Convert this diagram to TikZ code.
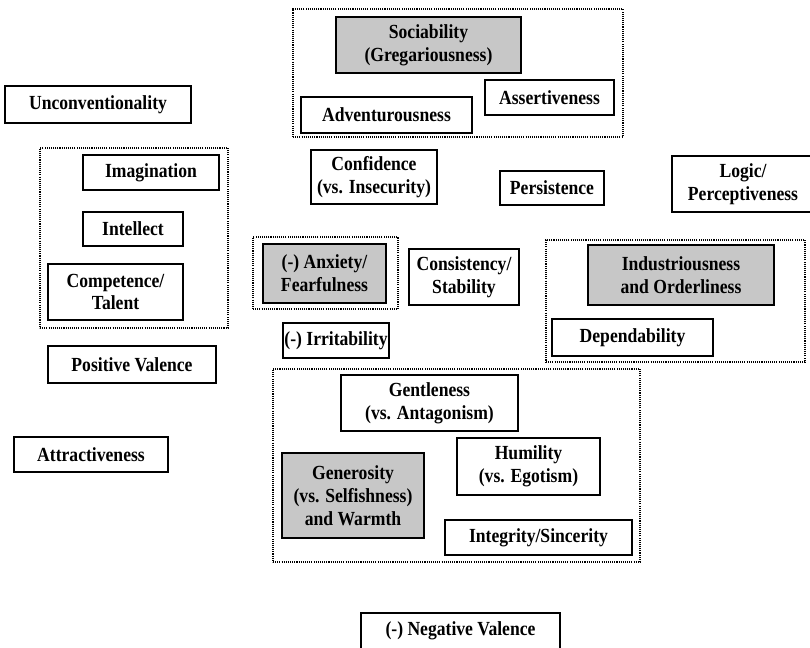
\documentclass[tikz,border=0pt]{standalone}
\usepackage{fontspec}
\setmainfont{Liberation Serif}[FakeStretch=0.88]
\begin{document}
\begin{tikzpicture}[x=0.75pt,y=-0.75pt,
  box/.style={draw=black,line width=0.9pt,inner sep=0pt,align=center,
    font=\bfseries\fontsize{15}{17.2}\selectfont},
  shaded/.style={fill=black!22},
  group/.style={draw=black,line width=1.1pt,dash pattern=on 0.8pt off 0.8pt,inner sep=0pt}]
\useasboundingbox (0,0) rectangle (810,647);
\newcommand\bx[7][]{%
  \node[box,#1,minimum width={(#5-#3)*0.75pt},minimum height={(#6-#4)*0.75pt}] (#2)
    at ({(#3+#5)/2},{(#4+#6)/2}) {#7};}
% groups
\bx[group]{gtop}{293}{9}{623}{137}{}
\bx[group]{gleft}{40}{148}{228}{328}{}
\bx[group]{ganx}{253}{237}{398}{309}{}
\bx[group]{gind}{546}{240}{805}{362}{}
\bx[group]{gbot}{273}{369}{640}{562}{}
% boxes
\bx[shaded]{soc}{336}{17}{521}{73}{Sociability\\(Gregariousness)}
\bx{ass}{485}{80}{614}{115}{Assertiveness}
\bx{adv}{301}{97}{472}{133}{Adventurousness}
\bx{unc}{5}{86}{191}{123}{Unconventionality}
\bx{ima}{83}{155}{219}{190}{Imagination}
\bx{int}{83}{212}{183}{246}{Intellect}
\bx{com}{48}{264}{183}{320}{Competence/\\Talent}
\bx{pos}{48}{346}{216}{383}{Positive Valence}
\bx{att}{14}{437}{168}{472}{Attractiveness}
\bx{con}{311}{150}{437}{204}{Confidence\\(vs. Insecurity)}
\bx{per}{500}{171}{604}{205}{Persistence}
\bx{log}{672}{156}{814}{212}{Logic/\\Perceptiveness}
\bx[shaded]{anx}{263}{244}{386}{303}{(-) Anxiety/\\Fearfulness}
\bx{cst}{409}{249}{519}{305}{Consistency/\\Stability}
\bx[shaded]{ind}{588}{245}{774}{305}{Industriousness\\and Orderliness}
\bx{dep}{552}{319}{713}{356}{Dependability}
\bx{irr}{283}{323}{389}{358}{(-) Irritability}
\bx{gen}{341}{375}{518}{431}{Gentleness\\(vs. Antagonism)}
\bx{hum}{457}{438}{600}{495}{Humility\\(vs. Egotism)}
\bx[shaded]{gnr}{282}{453}{424}{538}{Generosity\\(vs. Selfishness)\\and Warmth}
\bx{itg}{445}{520}{632}{555}{Integrity/Sincerity}
\bx{neg}{361}{613}{560}{649}{(-) Negative Valence}
\end{tikzpicture}
\end{document}
